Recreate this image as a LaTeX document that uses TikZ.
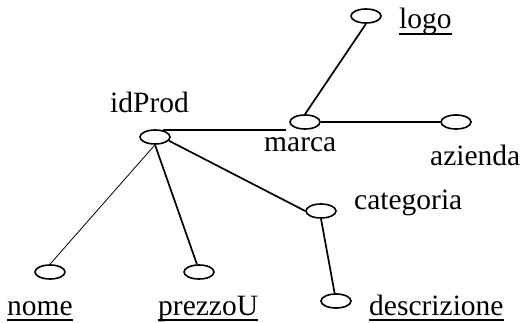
\documentclass[tikz,border=0pt]{standalone}
\usepackage{fontspec}
\setmainfont{Liberation Serif}
\usetikzlibrary{shapes.geometric}
\begin{document}
\begin{tikzpicture}[x=1pt,y=-1pt,
  attr/.style={draw, ellipse, minimum width=30pt, minimum height=14pt, inner sep=0pt, line width=1.6pt},
  lbl/.style={inner sep=0pt, anchor=base west, font=\fontsize{29.5}{34}\selectfont},
  conn/.style={line width=1.7pt},
  thin/.style={line width=0.8pt},
  ul/.style={line width=1.4pt}]
\useasboundingbox (0,0) rectangle (521,323);
% attribute ellipses
\node[attr] (logoE) at (366,16) {};
\node[attr] (idP) at (155,137) {};
\node[attr] (marcaE) at (305,122) {};
\node[attr] (azE) at (456,122) {};
\node[attr] (catE) at (321,211) {};
\node[attr] (nomeE) at (50,272) {};
\node[attr] (prE) at (199,272) {};
\node[attr] (descE) at (336,301) {};
% labels
\node[lbl] (logoT) at (399,29) {logo};
\node[lbl] (idT) at (110,113) {idProd};
\node[lbl] (marcaT) at (264,151) {marca};
\node[lbl] (azT) at (430,165) {azienda};
\node[lbl] (catT) at (354,209) {categoria};
\node[lbl] (nomeT) at (7,315) {nome};
\node[lbl] (prT) at (158,315) {prezzoU};
\node[lbl] (descT) at (369,315) {descrizione};
% underlines
\foreach \n in {logoT,nomeT,prT,descT}
  \draw[ul] ([yshift=-5pt]\n.base west) -- ([yshift=-5pt]\n.base east);
% connectors
\draw[conn] (logoE.south) -- (marcaE.north);
\draw[conn] (idP.40) -- ([xshift=-3pt]idP.40 -| marcaE.west);
\draw[conn] (marcaE.east) -- (azE.west);
\draw[conn] (idP.-15) -- (catE.west);
\draw[thin] (idP.south) -- (nomeE.north);
\draw[conn] (idP.south) -- (prE.105);
\draw[conn] (catE.south) -- (descE.100);
\end{tikzpicture}
\end{document}
